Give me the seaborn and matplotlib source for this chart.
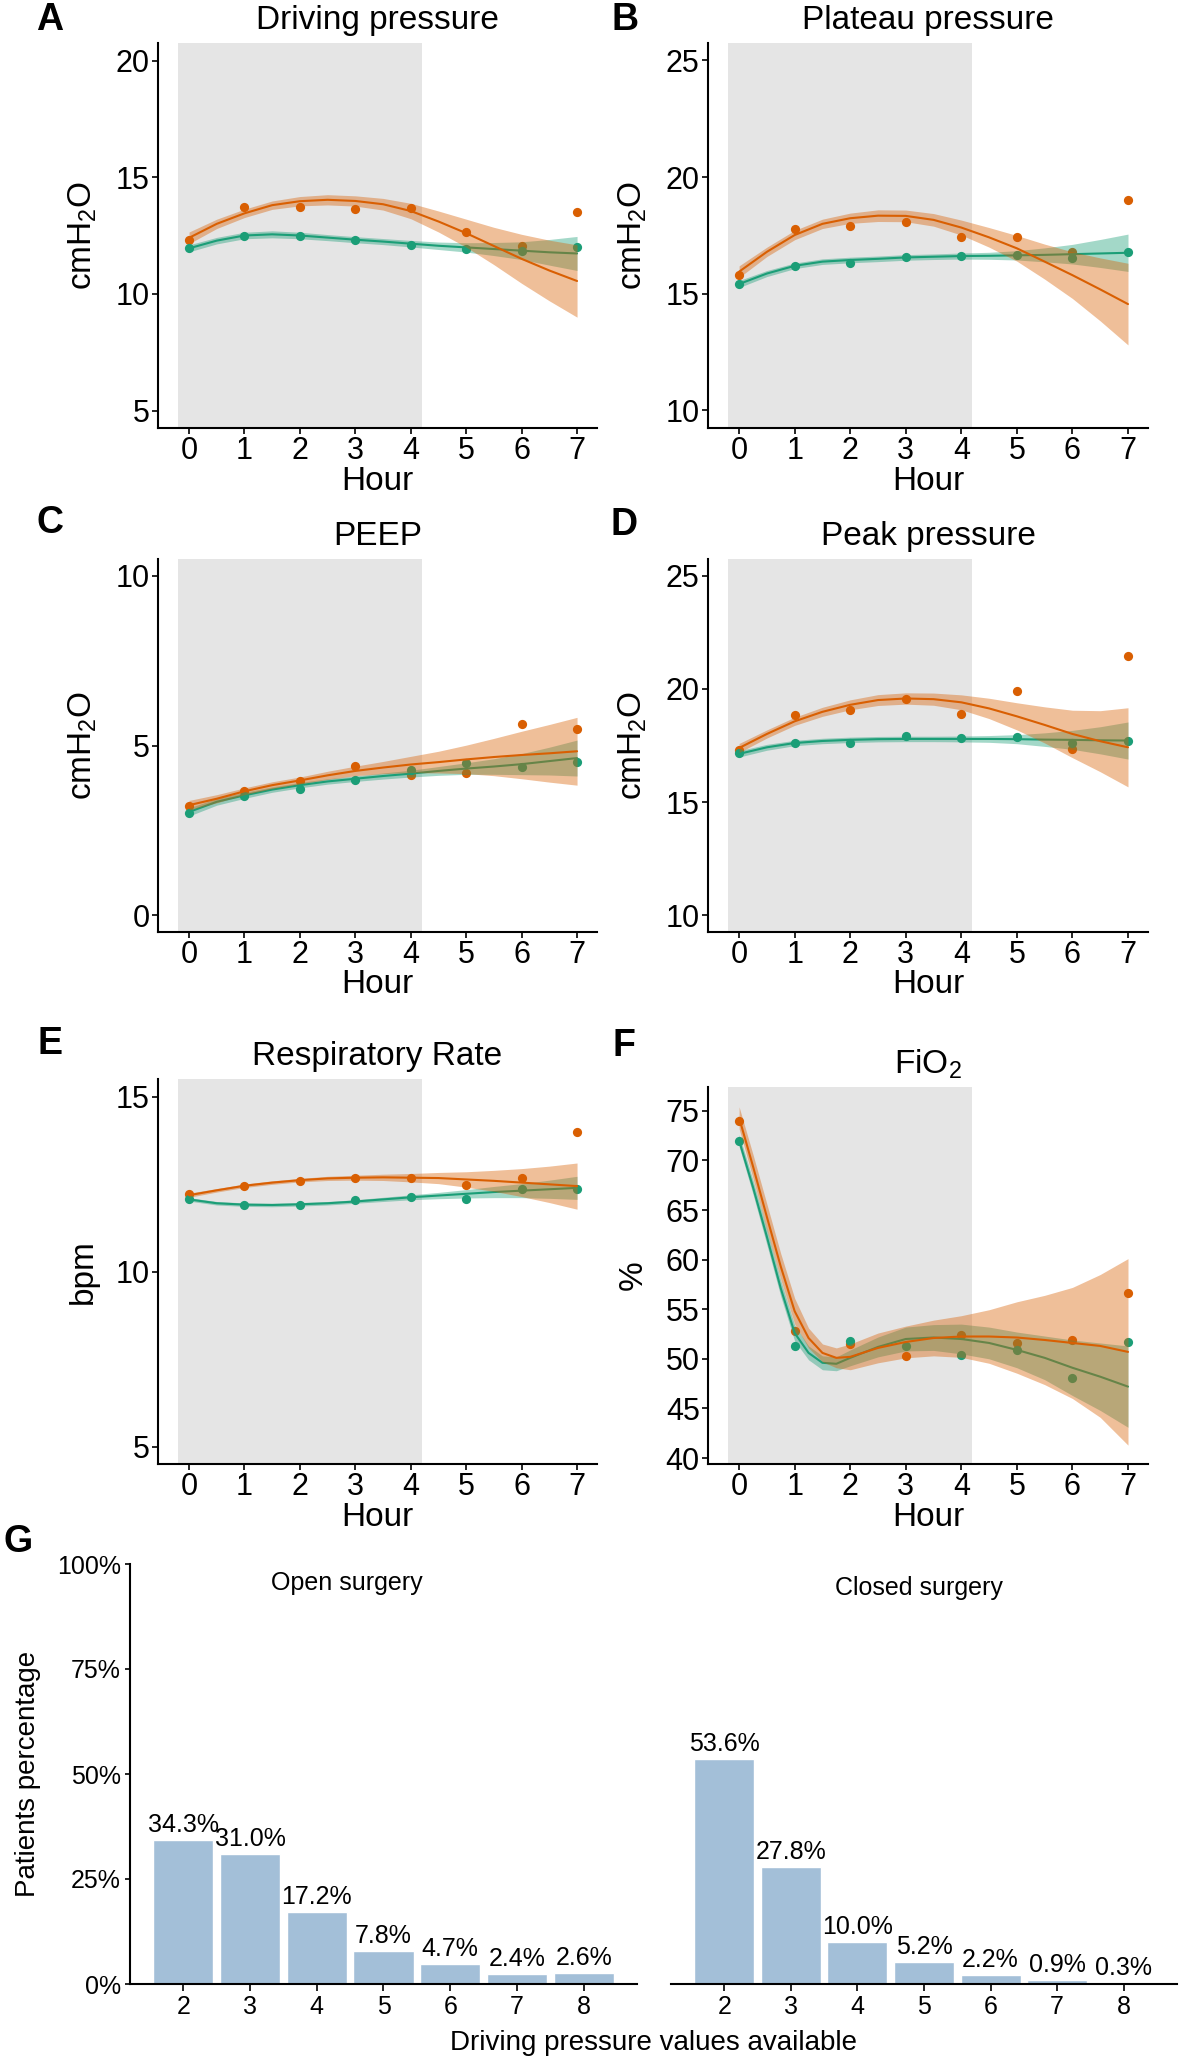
import matplotlib
matplotlib.use("Agg")
import matplotlib.pyplot as plt
import numpy as np
import pandas as pd
import seaborn as sns

ORANGE = "#D95F02"
GREEN = "#1B9E77"
SHADE = "#E5E5E5"
BAR = "#A3BFD8"

hours = [0, 1, 2, 3, 4, 5, 6, 7]
grid = [0, 0.5, 1, 1.5, 2, 2.5, 3, 3.5, 4, 4.5, 5, 5.5, 6, 6.5, 7]
grid_fio2 = [0, 0.25, 0.5, 0.75, 1, 1.25, 1.5, 1.75, 2, 2.5, 3, 3.5, 4, 4.5, 5, 5.5, 6, 6.5, 7]

# A - driving pressure
dp_orange = [12.31, 13.72, 13.72, 13.65, 13.68, 12.65, 12.05, 13.51]
dp_green = [11.95, 12.46, 12.50, 12.31, 12.09, 11.93, 11.85, 11.99]
dp_orange_fit = [12.40, 13.00, 13.45, 13.80, 13.97, 14.03, 13.98, 13.84, 13.55, 13.10, 12.60, 12.05, 11.50, 11.00, 10.55]
dp_orange_hw = [0.25, 0.20, 0.18, 0.18, 0.20, 0.22, 0.22, 0.25, 0.33, 0.45, 0.60, 0.80, 1.05, 1.30, 1.55]
dp_green_fit = [11.95, 12.28, 12.50, 12.55, 12.50, 12.41, 12.32, 12.24, 12.15, 12.06, 11.99, 11.92, 11.85, 11.78, 11.73]
dp_green_hw = [0.15, 0.14, 0.14, 0.15, 0.14, 0.13, 0.13, 0.13, 0.14, 0.16, 0.20, 0.28, 0.38, 0.55, 0.73]

# B - plateau pressure
pp_orange = [15.79, 17.79, 17.91, 18.07, 17.45, 17.45, 16.81, 19.01]
pp_green = [15.42, 16.19, 16.33, 16.58, 16.63, 16.68, 16.55, 16.78]
pp_orange_fit = [15.95, 16.80, 17.52, 18.00, 18.24, 18.35, 18.34, 18.17, 17.84, 17.42, 16.95, 16.38, 15.80, 15.19, 14.56]
pp_orange_hw = [0.25, 0.20, 0.20, 0.20, 0.22, 0.25, 0.25, 0.27, 0.32, 0.42, 0.55, 0.75, 1.00, 1.35, 1.75]
pp_green_fit = [15.42, 15.87, 16.20, 16.38, 16.45, 16.50, 16.56, 16.59, 16.62, 16.63, 16.65, 16.67, 16.70, 16.73, 16.76]
pp_green_hw = [0.15, 0.13, 0.12, 0.12, 0.12, 0.12, 0.12, 0.12, 0.13, 0.15, 0.20, 0.30, 0.42, 0.60, 0.80]

# C - PEEP
pe_orange = [3.22, 3.65, 3.94, 4.40, 4.14, 4.20, 5.63, 5.49]
pe_green = [3.02, 3.50, 3.72, 3.97, 4.29, 4.48, 4.37, 4.51]
pe_orange_fit = [3.24, 3.43, 3.65, 3.83, 3.97, 4.12, 4.25, 4.35, 4.44, 4.51, 4.59, 4.66, 4.72, 4.77, 4.83]
pe_orange_hw = [0.14, 0.12, 0.10, 0.10, 0.10, 0.12, 0.14, 0.18, 0.24, 0.32, 0.42, 0.55, 0.70, 0.85, 1.00]
pe_green_fit = [3.04, 3.34, 3.53, 3.70, 3.83, 3.94, 4.02, 4.10, 4.17, 4.25, 4.32, 4.38, 4.45, 4.54, 4.63]
pe_green_hw = [0.12, 0.10, 0.09, 0.08, 0.08, 0.08, 0.08, 0.09, 0.10, 0.13, 0.17, 0.23, 0.31, 0.41, 0.53]

# D - peak pressure
pk_orange = [17.31, 18.83, 19.08, 19.54, 18.88, 19.92, 17.35, 21.45]
pk_green = [17.16, 17.61, 17.61, 17.92, 17.82, 17.86, 17.60, 17.69]
pk_orange_fit = [17.39, 18.01, 18.57, 18.99, 19.30, 19.51, 19.58, 19.55, 19.41, 19.14, 18.79, 18.41, 18.01, 17.69, 17.42]
pk_orange_hw = [0.20, 0.18, 0.18, 0.20, 0.22, 0.24, 0.25, 0.27, 0.33, 0.45, 0.60, 0.80, 1.05, 1.35, 1.75]
pk_green_fit = [17.13, 17.42, 17.61, 17.70, 17.75, 17.78, 17.79, 17.79, 17.79, 17.79, 17.78, 17.76, 17.75, 17.73, 17.72]
pk_green_hw = [0.14, 0.13, 0.12, 0.12, 0.12, 0.12, 0.12, 0.12, 0.13, 0.15, 0.20, 0.30, 0.42, 0.60, 0.82]

# E - respiratory rate
rr_orange = [12.21, 12.45, 12.60, 12.68, 12.67, 12.47, 12.67, 13.98]
rr_green = [12.06, 11.91, 11.91, 12.03, 12.13, 12.07, 12.35, 12.37]
rr_orange_fit = [12.18, 12.32, 12.45, 12.54, 12.61, 12.66, 12.68, 12.69, 12.68, 12.67, 12.63, 12.59, 12.54, 12.49, 12.44]
rr_orange_hw = [0.06, 0.05, 0.05, 0.05, 0.05, 0.06, 0.07, 0.09, 0.12, 0.16, 0.22, 0.30, 0.40, 0.52, 0.66]
rr_green_fit = [12.06, 11.95, 11.91, 11.90, 11.92, 11.95, 12.00, 12.06, 12.12, 12.17, 12.22, 12.27, 12.31, 12.35, 12.39]
rr_green_hw = [0.05, 0.05, 0.05, 0.05, 0.05, 0.05, 0.05, 0.06, 0.07, 0.09, 0.12, 0.16, 0.20, 0.26, 0.33]

# F - FiO2
fi_orange = [74.0, 52.85, 51.5, 50.3, 52.45, 51.64, 51.85, 56.64]
fi_green = [71.98, 51.34, 51.75, 51.34, 50.4, 50.9, 48.1, 51.68]
fi_orange_fit = [74.3, 69.4, 64.3, 59.3, 54.8, 52.1, 50.6, 50.1, 50.2, 51.1, 51.7, 52.1, 52.25, 52.25, 52.15, 51.9, 51.6, 51.3, 50.7]
fi_orange_hw = [1.1, 1.2, 1.3, 1.3, 1.3, 1.0, 0.9, 1.0, 1.3, 1.5, 1.6, 1.8, 2.1, 2.7, 3.6, 4.5, 5.6, 7.2, 9.4]
fi_green_fit = [72.0, 67.3, 62.3, 57.1, 52.6, 50.6, 49.6, 49.5, 50.1, 51.2, 52.0, 52.15, 52.0, 51.6, 50.9, 50.1, 49.1, 48.2, 47.2]
fi_green_hw = [0.6, 0.7, 0.8, 0.8, 0.8, 0.7, 0.7, 0.7, 0.8, 1.0, 1.2, 1.3, 1.5, 1.6, 1.8, 2.2, 2.8, 3.4, 4.1]

# G - driving pressure values available
dp_available = ["2", "3", "4", "5", "6", "7", "8"]
open_pct = [34.3, 31.0, 17.2, 7.8, 4.7, 2.4, 2.6]
closed_pct = [53.6, 27.8, 10.0, 5.2, 2.2, 0.9, 0.3]

sns.set_theme(style="ticks")
plt.rcParams['font.family'] = ['Liberation Sans', 'DejaVu Sans']
plt.rcParams['mathtext.fontset'] = 'custom'
plt.rcParams['mathtext.rm'] = 'Liberation Sans'
plt.rcParams['mathtext.it'] = 'Liberation Sans:italic'
plt.rcParams['mathtext.default'] = 'regular'
plt.rcParams['axes.linewidth'] = 1.5
plt.rcParams['axes.edgecolor'] = 'black'
plt.rcParams['text.color'] = 'black'
plt.rcParams['axes.labelcolor'] = 'black'
plt.rcParams['xtick.color'] = 'black'
plt.rcParams['ytick.color'] = 'black'

W, H = 1181, 2058
fig = plt.figure(figsize=(W / 100, H / 100), dpi=100)


def add_ax(left, right, top, bottom):
    return fig.add_axes([left / W, 1 - bottom / H, (right - left) / W, (bottom - top) / H])


def line_panel(ax, title, ylabel, ylim, yticks, xg, pts_o, pts_g, fit_o, hw_o, fit_g, hw_g):
    ax.axvspan(-0.2, 4.2, color=SHADE, lw=0, zorder=0)
    sns.scatterplot(x=hours, y=pts_o, color=ORANGE, s=44, linewidth=0, ax=ax, zorder=2)
    sns.scatterplot(x=hours, y=pts_g, color=GREEN, s=44, linewidth=0, ax=ax, zorder=2)
    # green group first, orange ribbon lies on top of it
    for fit, hw, col in [(fit_g, hw_g, GREEN), (fit_o, hw_o, ORANGE)]:
        fit = np.array(fit)
        hw = np.array(hw)
        ax.fill_between(xg, fit - hw, fit + hw, color=col, alpha=0.4, lw=0, zorder=3)
        sns.lineplot(x=xg, y=fit, color=col, lw=1.5, sort=False, errorbar=None, ax=ax, zorder=3)
    ax.set_xlim(-0.56, 7.36)
    ax.set_ylim(*ylim)
    ax.set_xticks(hours)
    ax.set_yticks(yticks)
    ax.tick_params(labelsize=22, length=4, width=1.2, pad=2, colors='black')
    ax.set_title(title, fontsize=24, pad=10)
    ax.set_xlabel("Hour", fontsize=24)
    ax.xaxis.set_label_coords(0.5, -0.10)
    ax.set_ylabel(ylabel, fontsize=24)
    ax.yaxis.set_label_coords(-0.135, 0.5)
    sns.despine(ax=ax)


cm = "cmH$_2$O"
panels = [
    ((158, 597, 43, 428), "Driving pressure", cm, (4.25, 20.75), [5, 10, 15, 20], grid,
     dp_orange, dp_green, dp_orange_fit, dp_orange_hw, dp_green_fit, dp_green_hw),
    ((708, 1148, 43, 428), "Plateau pressure", cm, (9.25, 25.75), [10, 15, 20, 25], grid,
     pp_orange, pp_green, pp_orange_fit, pp_orange_hw, pp_green_fit, pp_green_hw),
    ((158, 597, 559, 932), "PEEP", cm, (-0.5, 10.5), [0, 5, 10], grid,
     pe_orange, pe_green, pe_orange_fit, pe_orange_hw, pe_green_fit, pe_green_hw),
    ((708, 1148, 559, 932), "Peak pressure", cm, (9.25, 25.75), [10, 15, 20, 25], grid,
     pk_orange, pk_green, pk_orange_fit, pk_orange_hw, pk_green_fit, pk_green_hw),
    ((158, 597, 1079, 1464), "Respiratory Rate", "bpm", (4.5, 15.5), [5, 10, 15], grid,
     rr_orange, rr_green, rr_orange_fit, rr_orange_hw, rr_green_fit, rr_green_hw),
    ((708, 1148, 1087, 1464), "FiO$_2$", "%", (39.4, 77.4), [40, 45, 50, 55, 60, 65, 70, 75], grid_fio2,
     fi_orange, fi_green, fi_orange_fit, fi_orange_hw, fi_green_fit, fi_green_hw),
]

for pos, *args in panels:
    ax = add_ax(*pos)
    line_panel(ax, *args)

# bar panels
axL = add_ax(130, 637, 1564, 1984)
axR = add_ax(671, 1177, 1564, 1984)
for ax, vals, name, tx, ty in [(axL, open_pct, "Open surgery", 0.428, 0.955),
                               (axR, closed_pct, "Closed surgery", 0.49, 0.943)]:
    sns.barplot(x=dp_available, y=vals, color=BAR, saturation=1, width=0.9, ax=ax, zorder=2)
    ax.bar_label(ax.containers[0], labels=[f"{v:.1f}%" for v in vals], padding=2, fontsize=18)
    ax.set_xlim(-0.8, 6.8)
    ax.set_ylim(0, 100)
    ax.text(tx, ty, name, transform=ax.transAxes, ha='center', va='center', fontsize=18)
    ax.tick_params(axis='x', labelsize=18, length=5, width=1.2, pad=3, colors='black')
    ax.tick_params(axis='y', labelsize=18, length=3.5, width=1.2, pad=3, colors='black')
    ax.set_xlabel("")
    sns.despine(ax=ax)

axL.set_yticks([0, 25, 50, 75, 100])
axL.set_yticklabels(["0%", "25%", "50%", "75%", "100%"])
axL.set_ylabel("Patients percentage", fontsize=20)
axL.yaxis.set_label_coords(-0.175, 0.5)
axR.spines['left'].set_visible(False)
axR.set_yticks([])
axR.set_ylabel("")
fig.text(653 / W, 1 - 2043 / H, "Driving pressure values available", ha='center', va='center', fontsize=20)

# panel letters
for letter, x, y in [("A", 50, 20), ("B", 625, 20), ("C", 50, 523), ("D", 624, 525),
                     ("E", 50, 1044), ("F", 624, 1046), ("G", 18, 1542)]:
    fig.text(x / W, 1 - y / H, letter, fontsize=27, fontweight='bold', ha='center', va='center')

fig.savefig("out.png", dpi=100)
